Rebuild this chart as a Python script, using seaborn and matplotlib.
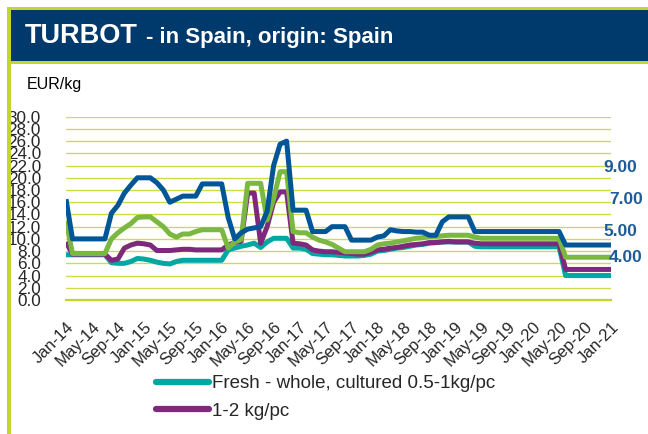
import matplotlib
matplotlib.use("Agg")
import matplotlib.pyplot as plt
import seaborn as sns
import pandas as pd
import numpy as np
from matplotlib.patches import Rectangle
from matplotlib.lines import Line2D

# ---------------- data ----------------
tick_labels = ["Jan-14", "May-14", "Sep-14", "Jan-15", "May-15", "Sep-15", "Jan-16", "May-16",
               "Sep-16", "Jan-17", "May-17", "Sep-17", "Jan-18", "May-18", "Sep-18", "Jan-19",
               "May-19", "Sep-19", "Jan-20", "May-20", "Sep-20", "Jan-21"]

months = pd.date_range("2014-01-01", "2021-01-01", freq="MS")

teal_05_1kg = [7.4, 7.4, 7.4, 7.4, 7.4, 7.4, 7.4, 6.1, 6.0, 6.0, 6.3, 6.8, 6.7, 6.5, 6.2, 6.0, 5.9,
               6.3, 6.5, 6.5, 6.5, 6.5, 6.5, 6.5, 6.5, 8.2, 8.5, 8.8, 9.0, 9.3, 8.6, 9.5, 10.1,
               10.1, 10.1, 8.5, 8.5, 8.3, 7.6, 7.5, 7.4, 7.4, 7.3, 7.2, 7.2, 7.2, 7.3, 7.5, 8.0,
               8.1, 8.3, 8.5, 8.6, 8.8, 9.0, 9.1, 9.3, 9.4, 9.5, 9.5, 9.5, 9.5, 9.5, 8.8, 8.7,
               8.7, 8.7, 8.7, 8.7, 8.7, 8.7, 8.7, 8.7, 8.7, 8.7, 8.7, 8.7, 4.0, 4.0, 4.0, 4.0,
               4.0, 4.0, 4.0, 4.0]

purple_1_2kg = [9.5, 7.5, 7.5, 7.5, 7.5, 7.5, 7.5, 6.5, 6.7, 8.5, 9.0, 9.3, 9.2, 9.0, 8.1, 8.1,
                8.1, 8.2, 8.3, 8.3, 8.2, 8.2, 8.2, 8.2, 8.2, 9.0, 9.4, 9.6, 17.5, 17.5, 9.3, 12.0,
                16.0, 17.7, 17.7, 9.3, 9.2, 9.0, 8.2, 8.0, 7.9, 7.9, 7.8, 7.7, 7.6, 7.5, 7.5, 7.8,
                8.2, 8.3, 8.5, 8.6, 8.8, 9.0, 9.1, 9.2, 9.4, 9.4, 9.5, 9.6, 9.5, 9.5, 9.5, 9.3,
                9.2, 9.2, 9.2, 9.2, 9.2, 9.2, 9.2, 9.2, 9.2, 9.2, 9.2, 9.2, 9.2, 5.0, 5.0, 5.0,
                5.0, 5.0, 5.0, 5.0, 5.0]

green_2_3kg = [13.0, 7.6, 7.6, 7.6, 7.6, 7.6, 7.6, 10.0, 11.0, 11.8, 12.5, 13.5, 13.6, 13.6, 12.8,
               12.0, 10.8, 10.3, 10.8, 10.8, 11.2, 11.5, 11.5, 11.5, 11.5, 8.5, 9.5, 9.9, 19.1,
               19.1, 19.1, 13.1, 16.6, 21.0, 21.0, 11.2, 11.0, 11.0, 10.3, 9.8, 9.5, 9.1, 8.5,
               7.9, 7.9, 7.9, 7.9, 8.3, 9.0, 9.2, 9.3, 9.5, 9.7, 9.9, 10.1, 10.2, 10.4, 10.4,
               10.5, 10.6, 10.6, 10.6, 10.6, 10.3, 10.1, 10.1, 10.1, 10.1, 10.1, 10.1, 10.1,
               10.1, 10.1, 10.1, 10.1, 10.1, 10.1, 7.0, 7.0, 7.0, 7.0, 7.0, 7.0, 7.0, 7.0]

blue_3_4kg = [16.5, 10.0, 10.0, 10.0, 10.0, 10.0, 10.0, 14.2, 15.5, 17.5, 18.8, 20.0, 20.0, 20.0,
              19.2, 18.0, 16.0, 16.5, 17.0, 17.0, 17.0, 19.0, 19.0, 19.0, 19.0, 13.5, 10.0, 11.0,
              11.6, 11.8, 12.0, 14.5, 22.0, 25.5, 26.0, 14.7, 14.7, 14.7, 11.2, 11.2, 11.2, 12.0,
              12.0, 12.0, 9.8, 9.8, 9.8, 9.8, 10.3, 10.5, 11.5, 11.3, 11.2, 11.2, 11.1, 11.1,
              10.6, 10.6, 12.8, 13.6, 13.6, 13.6, 13.6, 11.2, 11.2, 11.2, 11.2, 11.2, 11.2, 11.2,
              11.2, 11.2, 11.2, 11.2, 11.2, 11.2, 11.2, 9.0, 9.0, 9.0, 9.0, 9.0, 9.0, 9.0, 9.0]

series_names = ["Fresh - whole, cultured 0.5-1kg/pc", "1-2 kg/pc", "2-3 kg/pc", "3-4 kg/pc"]
series_values = [teal_05_1kg, purple_1_2kg, green_2_3kg, blue_3_4kg]
end_labels = ["9.00", "7.00", "5.00", "4.00"]

colors = ["#00a7a3", "#7e2a7c", "#7ab842", "#005696"]

# ---------------- figure ----------------
sns.set_theme(style="white")
plt.rcParams["font.family"] = ["Liberation Sans", "DejaVu Sans"]

W, H = 648, 434
fig = plt.figure(figsize=(W / 100, H / 100), dpi=100)
fig.patch.set_facecolor("white")

def fx(x):
    return x / W

def fy(y):
    return 1 - y / H

lime = "#c3d62b"
navy = "#003a6c"
# frame: lime top line, navy title bar, lime under-line, lime left border
fig.patches.append(Rectangle((fx(7), fy(64)), fx(W - 7), (64 - 7) / H, transform=fig.transFigure,
                             facecolor=lime, edgecolor="none", zorder=0))
fig.patches.append(Rectangle((fx(10), fy(61)), fx(W - 10), (61 - 10) / H, transform=fig.transFigure,
                             facecolor=navy, edgecolor="none", zorder=1))
fig.patches.append(Rectangle((fx(7), 0), fx(4), fy(7), transform=fig.transFigure,
                             facecolor=lime, edgecolor="none", zorder=1))

fig.text(fx(25), fy(36), "TURBOT", color="white", fontsize=19.5, fontweight="bold",
         va="center", ha="left")
fig.text(fx(146), fy(37), "- in Spain, origin: Spain", color="white", fontsize=16,
         fontweight="bold", va="center", ha="left")
fig.text(fx(27), fy(85), "EUR/kg", color="black", fontsize=11.5, va="center", ha="left")

ax = fig.add_axes([fx(66), fy(300), fx(611) - fx(66), (300 - 116.7) / H])
ax.set_facecolor("none")

x_idx = np.arange(len(months))
frames = []
for name, vals in zip(series_names, series_values):
    frames.append(pd.DataFrame({"x": x_idx, "value": vals, "series": name}))
df = pd.concat(frames, ignore_index=True)

sns.lineplot(data=df, x="x", y="value", hue="series", palette=dict(zip(series_names, colors)),
             linewidth=3.6, ax=ax, legend=False, zorder=3)
for ln in ax.lines:
    ln.set_solid_joinstyle("round")
    ln.set_solid_capstyle("butt")

ax.set_xlim(0, len(months) - 1)
ax.set_ylim(0, 30)
ax.set_yticks(np.arange(0, 30.1, 2))
ax.set_yticklabels([f"{v:.1f}" for v in np.arange(0, 30.1, 2)], fontsize=12.3)
ax.set_xticks(np.arange(0, len(months), 4))
ax.set_xticklabels(tick_labels, rotation=45, ha="right", rotation_mode="anchor", fontsize=12)
ax.tick_params(axis="y", length=0, pad=18)
ax.tick_params(axis="x", direction="in", length=4, color=lime, width=1.2, pad=14)

for yv in np.arange(2, 30.1, 2):
    ax.axhline(yv, color="#cfdc4a", linewidth=1.0, zorder=1)

for s in ["top", "right", "left"]:
    ax.spines[s].set_visible(False)
ax.spines["bottom"].set_color(lime)
ax.spines["bottom"].set_linewidth(1.6)
ax.set_xlabel("")
ax.set_ylabel("")

# end-value labels
lab_pos = [(603, 167), (609, 200), (603, 231), (609, 257)]
for txt, (px, py) in zip(end_labels, lab_pos):
    fig.text(fx(px), fy(py), txt, color="#1d5b99", fontsize=12.5, fontweight="bold",
             va="center", ha="left")

handles = [Line2D([0], [0], color=colors[0], lw=4.5, solid_capstyle="round"),
           Line2D([0], [0], color=colors[1], lw=4.5, solid_capstyle="round")]
fig.legend(handles, series_names[:2], loc="upper left", bbox_to_anchor=(fx(156), fy(375)),
           frameon=False, fontsize=13.5, handlelength=2.8, handletextpad=0.2,
           labelspacing=0.55, borderaxespad=0, borderpad=0)

fig.savefig("out.png", dpi=100, facecolor="white")
